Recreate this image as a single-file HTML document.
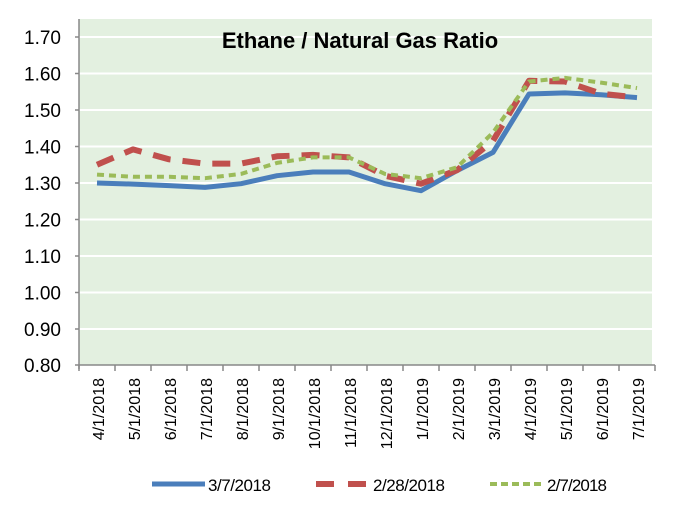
<!DOCTYPE html>
<html><head><style>body{margin:0;background:#fff}svg{display:block}</style></head><body>
<svg width="682" height="518" xmlns="http://www.w3.org/2000/svg" font-family="Liberation Sans, sans-serif">
<rect x="79" y="19" width="573" height="346" fill="#e3f0e0"/>
<g stroke="#fff" stroke-width="2">
<line x1="79" x2="652" y1="37" y2="37"/><line x1="79" x2="652" y1="73.5" y2="73.5"/><line x1="79" x2="652" y1="110" y2="110"/><line x1="79" x2="652" y1="146.5" y2="146.5"/><line x1="79" x2="652" y1="183" y2="183"/><line x1="79" x2="652" y1="219.5" y2="219.5"/><line x1="79" x2="652" y1="256" y2="256"/><line x1="79" x2="652" y1="292.5" y2="292.5"/><line x1="79" x2="652" y1="329" y2="329"/>
</g>
<g stroke="#888" stroke-width="1.5">
<line x1="79" y1="19" x2="79" y2="369"/><line x1="75" y1="365" x2="655" y2="365"/>
<path d="M75 37H79M75 73.5H79M75 110H79M75 146.5H79M75 183H79M75 219.5H79M75 256H79M75 292.5H79M75 329H79"/>
<path d="M79 365v6M115 365v6M151 365v6M187 365v6M223 365v6M259 365v6M295 365v6M331 365v6M367 365v6M403 365v6M439 365v6M475 365v6M511 365v6M547 365v6M583 365v6M619 365v6M655 365v6"/>
</g>
<g font-size="19" fill="#000" text-anchor="end">
<text x="61" y="44">1.70</text><text x="61" y="80.5">1.60</text><text x="61" y="117">1.50</text><text x="61" y="153.5">1.40</text><text x="61" y="190">1.30</text><text x="61" y="226.5">1.20</text><text x="61" y="263">1.10</text><text x="61" y="299.5">1.00</text><text x="61" y="336">0.90</text><text x="61" y="372">0.80</text>
</g>
<text x="360" y="48" font-size="22" font-weight="bold" text-anchor="middle">Ethane / Natural Gas Ratio</text>
<g font-size="16" text-anchor="end">
<text transform="translate(104,378) rotate(-90)">4/1/2018</text>
<text transform="translate(140,378) rotate(-90)">5/1/2018</text>
<text transform="translate(176,378) rotate(-90)">6/1/2018</text>
<text transform="translate(212,378) rotate(-90)">7/1/2018</text>
<text transform="translate(248,378) rotate(-90)">8/1/2018</text>
<text transform="translate(284,378) rotate(-90)">9/1/2018</text>
<text transform="translate(320,378) rotate(-90)">10/1/2018</text>
<text transform="translate(356,378) rotate(-90)">11/1/2018</text>
<text transform="translate(392,378) rotate(-90)">12/1/2018</text>
<text transform="translate(428,378) rotate(-90)">1/1/2019</text>
<text transform="translate(464,378) rotate(-90)">2/1/2019</text>
<text transform="translate(500,378) rotate(-90)">3/1/2019</text>
<text transform="translate(536,378) rotate(-90)">4/1/2019</text>
<text transform="translate(572,378) rotate(-90)">5/1/2019</text>
<text transform="translate(608,378) rotate(-90)">6/1/2019</text>
<text transform="translate(644,378) rotate(-90)">7/1/2019</text>
</g>
<g fill="none" stroke-linejoin="round">
<polyline stroke="#4a7ebb" stroke-width="5" points="97,183 133,184.1 169,185.6 205,187.4 241,183.7 277,175.7 313,172 349,172 385,183.7 421,190.7 457,170.6 493,152.4 529,94 565,92.9 601,94.7 637,97.6"/>
<polyline stroke="#c0504d" stroke-width="6" stroke-dasharray="18,12" points="97,164.7 133,149.4 169,159.3 205,163.6 241,163.6 277,156.3 313,154.9 349,157.4 385,175.7 421,183.7 457,170.2 493,140.7 529,80.8 565,81.5 601,93.6 637,97.6"/>
<polyline stroke="#9bbb59" stroke-width="4" stroke-dasharray="7,5" points="97,174.6 133,176.8 169,176.8 205,178.2 241,173.9 277,162.9 313,157.4 349,157.4 385,173.9 421,178.2 457,167.3 493,132.6 529,81.5 565,77.9 601,82.6 637,88.1"/>
</g>
<line x1="152" y1="484" x2="205" y2="484" stroke="#4a7ebb" stroke-width="5"/>
<text x="208" y="491" font-size="17" textLength="63">3/7/2018</text>
<line x1="316" y1="484" x2="368" y2="484" stroke="#c0504d" stroke-width="6" stroke-dasharray="18,14"/>
<text x="373" y="491" font-size="17" textLength="72">2/28/2018</text>
<line x1="490" y1="484" x2="544" y2="484" stroke="#9bbb59" stroke-width="4" stroke-dasharray="7,4"/>
<text x="547" y="491" font-size="17" textLength="60">2/7/2018</text>
</svg>
</body></html>
